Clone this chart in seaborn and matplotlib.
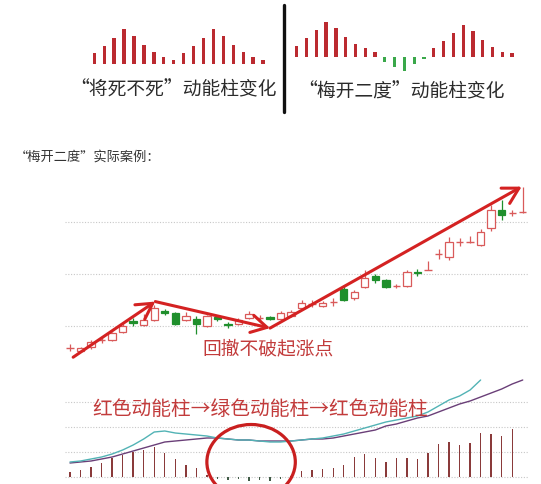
import numpy as np
import pandas as pd
import matplotlib
matplotlib.use("Agg")
import matplotlib.pyplot as plt
from matplotlib.patches import Ellipse
from matplotlib.lines import Line2D
import seaborn as sns

sns.set_theme(style="white")
plt.rcParams['font.family'] = ['Noto Sans CJK SC', 'DejaVu Sans']

# ---------------- data ----------------
# top-left "将死不死" momentum bars
left_bars = [10.7, 18, 26.3, 34.7, 28.3, 18.7, 11.7, 7.3, 4,
             10.7, 18, 26.3, 34.7, 28.3, 18.7, 11.7, 7.3, 4]
# top-right "梅开二度" momentum bars (negative = green)
right_bars = [10.7, 19, 26.7, 35, 28.3, 19.3, 12.3, 8.3, 4.3,
              -5.7, -10.7, -14, -7.3, -2.3,
              8.3, 15.7, 23.3, 31.7, 26, 16.7, 9.3, 5, 3.5]

# candlestick data
opens = [9.58, 9.52, 9.60, 9.73, 9.73, 9.88, 10.10, 10.02, 10.12, 10.29,
         10.25, 10.12, 10.13, 10.00, 10.17, 10.03, 10.04, 10.15, 10.15, 10.17,
         10.13, 10.19, 10.35, 10.42, 10.38, 10.46, 10.71, 10.54, 10.75, 10.96,
         10.88, 10.77, 10.77, 11.03, 11.08, 11.38, 11.33, 11.62, 11.62, 11.56,
         11.88, 12.23, 12.17, 12.19]
highs = [9.65, 9.60, 9.73, 9.79, 9.88, 10.04, 10.15, 10.23, 10.40, 10.33,
         10.27, 10.27, 10.19, 10.21, 10.19, 10.08, 10.15, 10.29, 10.21, 10.19,
         10.29, 10.31, 10.50, 10.50, 10.48, 10.54, 10.79, 10.69, 11.08, 11.00,
         10.90, 10.81, 11.08, 11.10, 11.25, 11.48, 11.71, 11.69, 11.73, 11.87,
         12.33, 12.42, 12.23, 12.67]
lows = [9.52, 9.50, 9.56, 9.67, 9.71, 9.87, 10.00, 10.00, 10.10, 10.21,
        10.02, 10.10, 9.85, 9.98, 10.10, 9.96, 10.02, 10.13, 10.10, 10.12,
        10.12, 10.17, 10.33, 10.37, 10.37, 10.38, 10.48, 10.50, 10.73, 10.83,
        10.73, 10.73, 10.75, 10.96, 11.08, 11.29, 11.27, 11.54, 11.60, 11.54,
        11.83, 12.04, 12.12, 12.17]
closes = [9.58, 9.58, 9.69, 9.73, 9.87, 10.00, 10.06, 10.12, 10.35, 10.25,
          10.04, 10.19, 10.04, 10.19, 10.13, 10.02, 10.12, 10.23, 10.15, 10.13,
          10.25, 10.27, 10.44, 10.42, 10.44, 10.46, 10.50, 10.65, 10.92, 10.88,
          10.75, 10.77, 11.04, 11.02, 11.08, 11.38, 11.62, 11.62, 11.62, 11.81,
          12.23, 12.13, 12.17, 12.19]
price_grid = [10, 11, 12]

# trend arrows (candle index, price)
trend_x = [0.3, 8.1, 19.0, 42.9]
trend_y = [9.40, 10.47, 9.96, 12.68]

# momentum (MACD) panel
macd_bars = [0.020, 0.028, 0.040, 0.056, 0.076, 0.088, 0.100, 0.108, 0.120, 0.096,
             0.072, 0.048, 0.036, 0.010, -0.008, -0.012, -0.008, -0.016, -0.010, -0.014,
             -0.008, 0.004, 0.024, 0.028, 0.032, 0.036, 0.048, 0.080, 0.092, 0.076,
             0.060, 0.076, 0.076, 0.072, 0.096, 0.132, 0.140, 0.128, 0.136, 0.176,
             0.172, 0.164, 0.192]
dif_line = [0.060, 0.064, 0.072, 0.080, 0.092, 0.108, 0.128, 0.152, 0.180, 0.184,
            0.176, 0.172, 0.168, 0.164, 0.156, 0.152, 0.148, 0.148, 0.144, 0.140,
            0.140, 0.144, 0.148, 0.152, 0.156, 0.164, 0.172, 0.184, 0.196, 0.208,
            0.220, 0.228, 0.236, 0.244, 0.260, 0.284, 0.308, 0.324, 0.348, 0.388,
            np.nan, np.nan, np.nan, np.nan]
dea_line = [0.056, 0.060, 0.064, 0.072, 0.080, 0.092, 0.104, 0.116, 0.128, 0.140,
            0.144, 0.148, 0.152, 0.156, 0.156, 0.152, 0.148, 0.148, 0.144, 0.144,
            0.144, 0.144, 0.148, 0.152, 0.152, 0.156, 0.164, 0.172, 0.180, 0.188,
            0.204, 0.212, 0.224, 0.236, 0.244, 0.260, 0.276, 0.292, 0.304, 0.320,
            0.336, 0.352, 0.372, 0.388]
macd_grid = [0.0, 0.1, 0.2, 0.3]

# circle highlight (index, value, width, height)
circle_spec = [17.2, 0.06, 8.4, 0.30]

# texts
title_left = "“将死不死”动能柱变化"
title_right = "“梅开二度”动能柱变化"
subtitle = "“梅开二度”实际案例："
pullback_label = "回撤不破起涨点"
bars_label = "红色动能柱→绿色动能柱→红色动能柱"

# ---------------- style ----------------
RED = "#bb2a30"
GREEN = "#3aa84a"
CANDLE_RED = "#d95a5a"
CANDLE_GREEN = "#1f8f2c"
ARROW_RED = "#d42222"
TEXT_RED = "#c23b3b"
MACD_RED = "#8a3a3a"
MACD_GREEN = "#3f5a45"

W, H = 541, 484
fig = plt.figure(figsize=(W / 100, H / 100), dpi=100)
fig.patch.set_facecolor("white")


def px_axes(left, top, right, bottom):
    return fig.add_axes([left / W, 1 - bottom / H, (right - left) / W, (bottom - top) / H])


def clean(ax):
    for s in ax.spines.values():
        s.set_visible(False)
    ax.set_xticks([])
    ax.set_yticks([])
    ax.set_xlabel("")
    ax.set_ylabel("")
    ax.set_facecolor("none")


# ---- top-left bars ----
axL = px_axes(88, 25, 270, 66)
dfL = pd.DataFrame({"i": np.arange(len(left_bars)), "v": left_bars})
dfL["s"] = np.where(dfL["v"] >= 0, "up", "down")
sns.barplot(data=dfL, x="i", y="v", hue="s", palette={"up": RED, "down": GREEN},
            dodge=False, width=0.34, legend=False, ax=axL, saturation=1, linewidth=0)
axL.set_xlim(-0.635, 17.7)
axL.set_ylim(-2, 39)
clean(axL)

# ---- top-right bars ----
axR = px_axes(290, 15, 520, 75)
dfR = pd.DataFrame({"i": np.arange(len(right_bars)), "v": right_bars})
dfR["s"] = np.where(dfR["v"] >= 0, "up", "down")
sns.barplot(data=dfR, x="i", y="v", hue="s", palette={"up": RED, "down": GREEN},
            dodge=False, width=0.34, legend=False, ax=axR, saturation=1, linewidth=0)
axR.set_xlim(-0.68, 22.8)
axR.set_ylim(-18.3, 41.7)
clean(axR)

# divider line
fig.add_artist(Line2D([284 / W, 284 / W], [1 - 5 / H, 1 - 112 / H], color="#111111", lw=2.4))

fig.text(174 / W, 1 - 90 / H, title_left, ha="center", va="center", fontsize=13.5, color="#2b2b2b")
fig.text(401 / W, 1 - 92 / H, title_right, ha="center", va="center", fontsize=13.5, color="#2b2b2b")
fig.text(15 / W, 1 - 157 / H, subtitle, ha="left", va="center", fontsize=9.5, color="#333333")

# ---- candlestick panel ----
axC = px_axes(65, 182, 528, 362)
n = len(opens)
idx = np.arange(n)
for y in price_grid:
    axC.axhline(y, color="#c8c8c8", lw=0.8, ls=(0, (1, 1.5)), zorder=0)
bw = 0.7
for i in range(n):
    o, h, l, c = opens[i], highs[i], lows[i], closes[i]
    down = c < o
    col = CANDLE_GREEN if down else CANDLE_RED
    axC.vlines(i, l, h, color=col, lw=0.9, zorder=2)
    if abs(c - o) < 1e-9:
        axC.hlines(o, i - bw / 2, i + bw / 2, color=col, lw=1.0, zorder=3)
    else:
        axC.bar(i, abs(c - o), bottom=min(o, c), width=bw,
                facecolor=CANDLE_GREEN if down else "white",
                edgecolor=col, linewidth=0.9, zorder=3)
axC.set_xlim(-0.475, 43.5)
axC.set_ylim(9.308, 12.769)
for k in range(len(trend_x) - 1):
    axC.annotate("", xy=(trend_x[k + 1], trend_y[k + 1]), xytext=(trend_x[k], trend_y[k]),
                 arrowprops=dict(arrowstyle="->,head_length=0.8,head_width=0.45",
                                 color=ARROW_RED, lw=2.2, shrinkA=0, shrinkB=0,
                                 mutation_scale=14),
                 annotation_clip=False, zorder=5)
clean(axC)
fig.text(268 / W, 1 - 349 / H, pullback_label, ha="center", va="center",
         fontsize=13.5, color=TEXT_RED)

# ---- momentum panel ----
axM = px_axes(65, 372, 528, 484)
for y in macd_grid:
    axM.axhline(y, color="#c8c8c8", lw=0.8, ls=(0, (1, 1.5)), zorder=0)
dfM = pd.DataFrame({"i": np.arange(len(macd_bars)), "v": macd_bars})
dfM["s"] = np.where(dfM["v"] >= 0, "up", "down")
sns.barplot(data=dfM, x="i", y="v", hue="s", palette={"up": MACD_RED, "down": MACD_GREEN},
            dodge=False, width=0.13, legend=False, ax=axM, saturation=1, native_scale=True,
            linewidth=0)
dfL2 = pd.DataFrame({"i": idx, "dif": dif_line, "dea": dea_line})
sns.lineplot(data=dfL2, x="i", y="dea", color="#6a3f78", lw=1.0, ax=axM)
sns.lineplot(data=dfL2, x="i", y="dif", color="#52b3b5", lw=1.0, ax=axM)
axM.add_patch(Ellipse((circle_spec[0], circle_spec[1]), circle_spec[2], circle_spec[3],
                      fill=False, edgecolor="#c91f1f", lw=2.3, clip_on=False, zorder=6))
axM.set_xlim(-0.475, 43.5)
axM.set_ylim(-0.028, 0.42)
clean(axM)
fig.text(260 / W, 1 - 409 / H, bars_label, ha="center", va="center",
         fontsize=14.2, color=TEXT_RED)

fig.savefig("out.png", dpi=100, facecolor="white")
